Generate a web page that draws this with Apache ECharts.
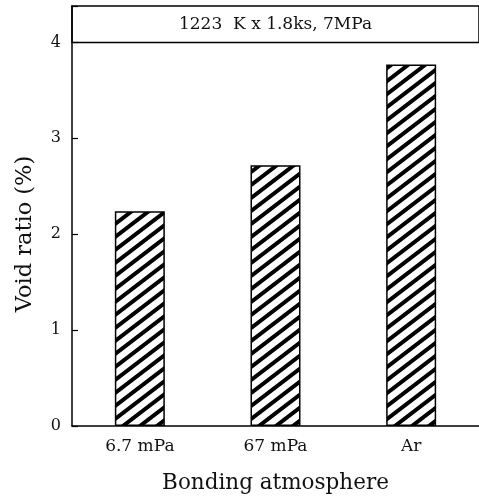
<!DOCTYPE html>
<html>
<head>
<meta charset="utf-8">
<script src="https://cdn.jsdelivr.net/npm/echarts@6/dist/echarts.min.js"></script>
<style>html,body{margin:0;padding:0;background:#fff;}#c{width:479px;height:499px;}</style>
</head>
<body>
<div id="c"></div>
<script>
const categories = ['6.7 mPa', '67 mPa', 'Ar'];
const voidRatio = [2.24, 2.72, 3.77];
const yTicks = [0, 1, 2, 3, 4];
const conditionText = '1223  K x 1.8ks, 7MPa';
const conditionLevel = 4;
const yMax = 4.38;

function hatch() {
  const w = 17, h = 13;
  const cv = document.createElement('canvas');
  cv.width = w; cv.height = h;
  const ctx = cv.getContext('2d');
  ctx.fillStyle = '#fff';
  ctx.fillRect(0, 0, w, h);
  ctx.strokeStyle = '#000';
  ctx.lineWidth = 4;
  [-w, 0, w].forEach(dx => {
    ctx.beginPath();
    ctx.moveTo(dx - w, 2 * h);
    ctx.lineTo(dx + 2 * w, -h);
    ctx.stroke();
  });
  return cv;
}

const font = '"DejaVu Serif", "Liberation Serif", serif';
const chart = echarts.init(document.getElementById('c'));
chart.setOption({
  animation: false,
  grid: { left: 72, right: -1, top: 6, bottom: 70 },
  xAxis: {
    type: 'category',
    data: categories,
    name: 'Bonding atmosphere',
    nameLocation: 'middle',
    nameGap: 46,
    nameTextStyle: { fontFamily: font, fontSize: 21.5, color: '#111' },
    axisLine: { lineStyle: { color: '#000', width: 1.5 } },
    axisTick: { show: false },
    axisLabel: { fontFamily: font, fontSize: 17, color: '#111', margin: 12 }
  },
  yAxis: {
    type: 'value',
    min: 0,
    max: yMax,
    interval: 1,
    name: 'Void ratio (%)',
    nameLocation: 'middle',
    nameGap: 35,
    nameTextStyle: { fontFamily: font, fontSize: 22.5, color: '#111', padding: [0, 36, 0, 0] },
    axisLine: { show: true, lineStyle: { color: '#000', width: 1.5 } },
    axisTick: { show: true, inside: true, length: 6, lineStyle: { color: '#000', width: 1.2 } },
    splitLine: { show: false },
    axisLabel: {
      fontFamily: font, fontSize: 16, color: '#111', margin: 11,
      formatter: v => (yTicks.indexOf(v) >= 0 ? String(v) : '')
    }
  },
  series: [{
    type: 'bar',
    data: voidRatio,
    barWidth: 50,
    itemStyle: {
      color: { image: hatch(), repeat: 'repeat' },
      borderColor: '#000',
      borderWidth: 1.5
    },
    markArea: {
      silent: true,
      itemStyle: { color: 'rgba(0,0,0,0)', borderColor: '#000', borderWidth: 1.5 },
      label: { show: true, position: 'inside', fontFamily: font, fontSize: 17, color: '#111' },
      data: [[{ yAxis: conditionLevel, name: conditionText }, { yAxis: yMax }]]
    }
  }]
});
</script>
</body>
</html>
